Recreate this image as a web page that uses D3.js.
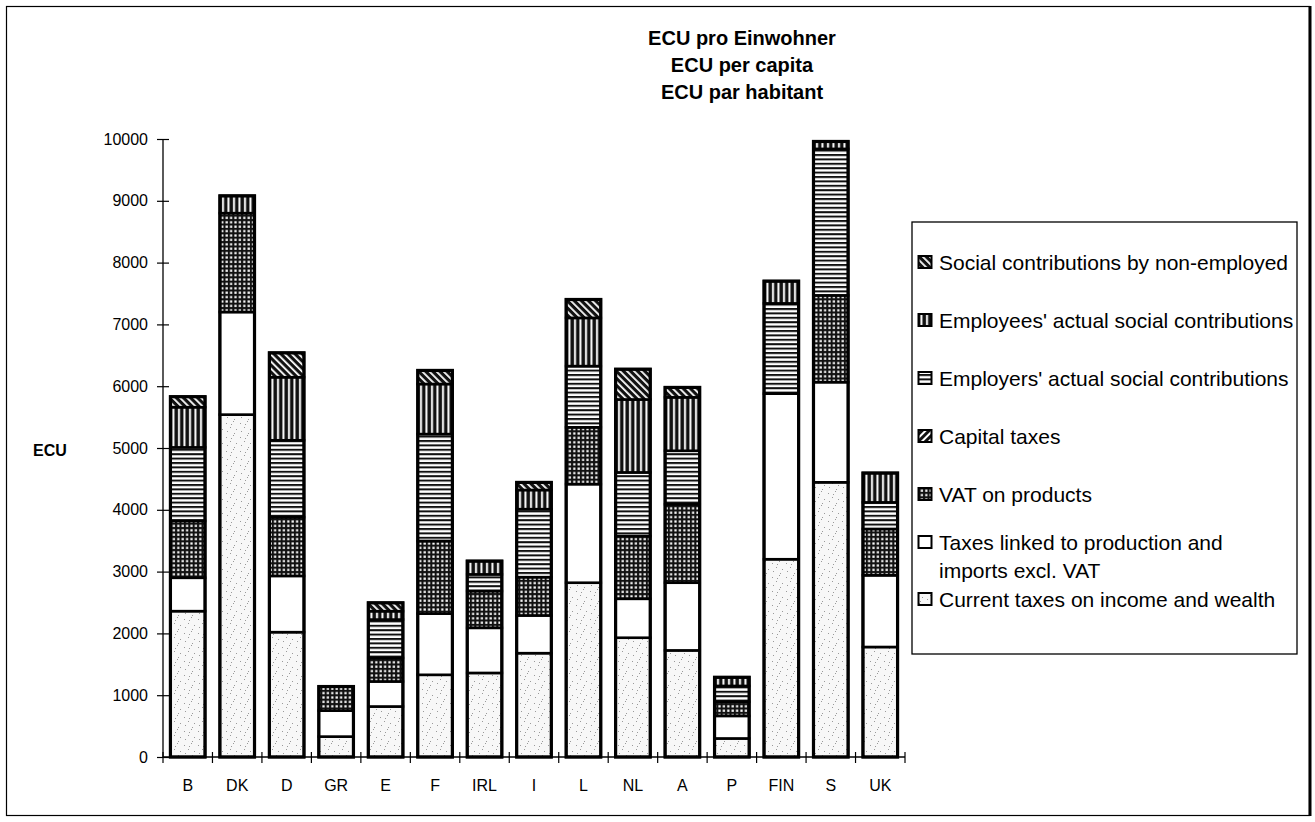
<!DOCTYPE html>
<html>
<head>
<meta charset="utf-8">
<script src="https://cdn.jsdelivr.net/npm/d3@7"></script>
<style>
  html, body { margin: 0; padding: 0; background: #fff; }
  svg { display: block; font-family: "Liberation Sans", Arial, sans-serif; }
</style>
</head>
<body>
<svg id="chart" width="1315" height="822"></svg>
<script>
// ---- Data (ECU per capita) ----
const categories = ["B","DK","D","GR","E","F","IRL","I","L","NL","A","P","FIN","S","UK"];
const currentTaxes   = [2360, 5540, 2020, 330, 817, 1330, 1360, 1680, 2820, 1930, 1725, 300, 3200, 4445, 1780];
const productionTaxes= [540, 1660, 910, 420, 405, 990, 730, 610, 1595, 630, 1095, 365, 2680, 1620, 1160];
const vatProducts    = [920, 1600, 950, 390, 380, 1175, 595, 620, 920, 1015, 1270, 230, 0, 1405, 750];
const capitalTaxes   = [0, 0, 0, 0, 0, 0, 0, 0, 0, 0, 0, 0, 0, 0, 0];
const employersSoc   = [1190, 0, 1245, 0, 622, 1730, 270, 1100, 990, 1030, 865, 255, 1460, 2370, 430];
const employeesSoc   = [650, 280, 1020, 0, 135, 810, 215, 310, 780, 1180, 865, 140, 360, 120, 475];
const nonEmployedSoc = [170, 0, 395, 0, 136, 220, 0, 123, 298, 490, 160, 0, 0, 0, 0];
const yTicks = [0,1000,2000,3000,4000,5000,6000,7000,8000,9000,10000];
const titleLines = ["ECU pro Einwohner", "ECU per capita", "ECU par habitant"];
const yAxisLabel = "ECU";

const seriesKeys = ["current","production","vat","capital","employers","employees","nonemp"];
const seriesValues = {
  current: currentTaxes, production: productionTaxes, vat: vatProducts, capital: capitalTaxes,
  employers: employersSoc, employees: employeesSoc, nonemp: nonEmployedSoc
};
const seriesNames = {
  nonemp: ["Social contributions by non-employed"],
  employees: ["Employees' actual social contributions"],
  employers: ["Employers' actual social contributions"],
  capital: ["Capital taxes"],
  vat: ["VAT on products"],
  production: ["Taxes linked to production and", "imports excl. VAT"],
  current: ["Current taxes on income and wealth"]
};
const legendOrder = ["nonemp","employees","employers","capital","vat","production","current"];

const table = categories.map((c, i) => {
  const row = { cat: c };
  seriesKeys.forEach(k => row[k] = seriesValues[k][i]);
  return row;
});

// ---- Layout ----
const svg = d3.select("#chart");
const x0 = 163, x1 = 905, yBase = 757, yTop = 139;

const x = d3.scaleBand().domain(categories).range([x0, x1]).paddingInner(0.3).paddingOuter(0.15);
const y = d3.scaleLinear().domain([0, 10000]).range([yBase, yTop]);

// ---- Patterns ----
const defs = svg.append("defs");
// stipple
const pSt = defs.append("pattern").attr("id","p-current").attr("patternUnits","userSpaceOnUse").attr("width",14).attr("height",14);
pSt.append("rect").attr("width",14).attr("height",14).attr("fill","#f7f7f7");
[[2,3],[9,1],[6,7],[12,9],[3,11],[10,13],[7,4]].forEach(d =>
  pSt.append("rect").attr("x",d[0]).attr("y",d[1]).attr("width",1).attr("height",1).attr("fill","#9a9a9a"));
// white
const pW = defs.append("pattern").attr("id","p-production").attr("patternUnits","userSpaceOnUse").attr("width",4).attr("height",4);
pW.append("rect").attr("width",4).attr("height",4).attr("fill","#fff");
// VAT grid: black with white squares
const pV = defs.append("pattern").attr("id","p-vat").attr("patternUnits","userSpaceOnUse").attr("width",4.4).attr("height",4.4);
pV.append("rect").attr("width",4.4).attr("height",4.4).attr("fill","#111");
pV.append("rect").attr("x",1.2).attr("y",1.2).attr("width",2.2).attr("height",2.2).attr("fill","#fff");
// capital ///
const pC = defs.append("pattern").attr("id","p-capital").attr("patternUnits","userSpaceOnUse").attr("width",5).attr("height",5).attr("patternTransform","rotate(45)");
pC.append("rect").attr("width",5).attr("height",5).attr("fill","#fff");
pC.append("rect").attr("width",3).attr("height",5).attr("fill","#111");
// employers: horizontal lines
const pE = defs.append("pattern").attr("id","p-employers").attr("patternUnits","userSpaceOnUse").attr("width",4.4).attr("height",4.4);
pE.append("rect").attr("width",4.4).attr("height",4.4).attr("fill","#fff");
pE.append("rect").attr("y",0).attr("width",4.4).attr("height",2).attr("fill","#111");
// employees: vertical lines
const pEe = defs.append("pattern").attr("id","p-employees").attr("patternUnits","userSpaceOnUse").attr("width",5.5).attr("height",5.5);
pEe.append("rect").attr("width",5.5).attr("height",5.5).attr("fill","#111");
pEe.append("rect").attr("x",2).attr("width",2).attr("height",5.5).attr("fill","#fff");
// non-employed \\\
const pN = defs.append("pattern").attr("id","p-nonemp").attr("patternUnits","userSpaceOnUse").attr("width",5).attr("height",5).attr("patternTransform","rotate(-45)");
pN.append("rect").attr("width",5).attr("height",5).attr("fill","#111");
pN.append("rect").attr("width",1.8).attr("height",5).attr("fill","#fff");

// ---- Outer frame ----
svg.append("rect").attr("x",6.5).attr("y",6.5).attr("width",1303).attr("height",809)
  .attr("fill","none").attr("stroke","#000").attr("stroke-width",1.2);
svg.append("line").attr("x1",1310).attr("x2",1310).attr("y1",6).attr("y2",816)
  .attr("stroke","#000").attr("stroke-width",3);

// ---- Title ----
const title = svg.append("g").attr("font-weight","bold").attr("font-size",20).attr("text-anchor","middle");
titleLines.forEach((t, i) => title.append("text").attr("x",742).attr("y",45 + i*27).text(t));

// ---- Bars ----
const stack = d3.stack().keys(seriesKeys);
const stacked = stack(table);
const gBars = svg.append("g");
stacked.forEach(layer => {
  gBars.selectAll(null)
    .data(layer.filter(d => d[1] - d[0] > 0))
    .join("rect")
    .attr("x", d => x(d.data.cat))
    .attr("y", d => y(d[1]))
    .attr("width", x.bandwidth())
    .attr("height", d => y(d[0]) - y(d[1]))
    .attr("fill", `url(#p-${layer.key})`)
    .attr("stroke", "#000")
    .attr("stroke-width", 2.6);
});
// outer bar outline
gBars.selectAll(null)
  .data(table)
  .join("rect")
  .attr("x", d => x(d.cat))
  .attr("y", d => y(d3.sum(seriesKeys, k => d[k])))
  .attr("width", x.bandwidth())
  .attr("height", d => yBase - y(d3.sum(seriesKeys, k => d[k])))
  .attr("fill", "none")
  .attr("stroke", "#000")
  .attr("stroke-width", 3.2);

// ---- Y axis ----
const yAxis = svg.append("g").attr("transform", `translate(${x0},0)`)
  .call(d3.axisLeft(y).tickValues(yTicks).tickFormat(d3.format("d")).tickSize(6).tickPadding(9));
yAxis.selectAll(".tick line").attr("x1", 6).attr("stroke-width", 1.2);
yAxis.select(".domain").attr("d", `M0,${yTop}V${yBase}`).attr("stroke-width", 1.3);
yAxis.selectAll("text").attr("font-size", 16).attr("font-family", "Liberation Sans, Arial, sans-serif").attr("fill","#000");

// ---- X axis ----
const xAxis = svg.append("g").attr("transform", `translate(0,${yBase})`)
  .call(d3.axisBottom(x).tickSize(0).tickPadding(23));
xAxis.select(".domain").attr("d", `M${x0},0H${x1}`).attr("stroke-width", 1.3);
xAxis.selectAll("text").attr("font-size", 16).attr("font-family", "Liberation Sans, Arial, sans-serif").attr("fill","#000");
// category boundary cross ticks
const step = x.step();
const boundaries = categories.map(c => x(c) - step * x.paddingInner() / 2).concat([x1]);
svg.append("g").selectAll("line").data(boundaries).join("line")
  .attr("x1", d => d).attr("x2", d => d)
  .attr("y1", yBase - 5).attr("y2", yBase + 6)
  .attr("stroke", "#000").attr("stroke-width", 1.2);

// ---- Y label ----
svg.append("text").attr("x", 50).attr("y", 456).attr("text-anchor","middle")
  .attr("font-weight","bold").attr("font-size",16).text(yAxisLabel);

// ---- Legend ----
const lg = svg.append("g");
lg.append("rect").attr("x",912).attr("y",222).attr("width",385).attr("height",432)
  .attr("fill","#fff").attr("stroke","#000").attr("stroke-width",1.3);
const rowBase = { nonemp: 270, employees: 328, employers: 386, capital: 444, vat: 502, production: 550, current: 607 };
legendOrder.forEach(k => {
  const b = rowBase[k];
  lg.append("rect").attr("x",918.5).attr("y",b - 14).attr("width",13).attr("height",12)
    .attr("fill",`url(#p-${k})`).attr("stroke","#000").attr("stroke-width",2);
  seriesNames[k].forEach((line, i) => {
    lg.append("text").attr("x",939).attr("y",b + i*28)
      .attr("font-size",21).text(line);
  });
});
</script>
</body>
</html>
